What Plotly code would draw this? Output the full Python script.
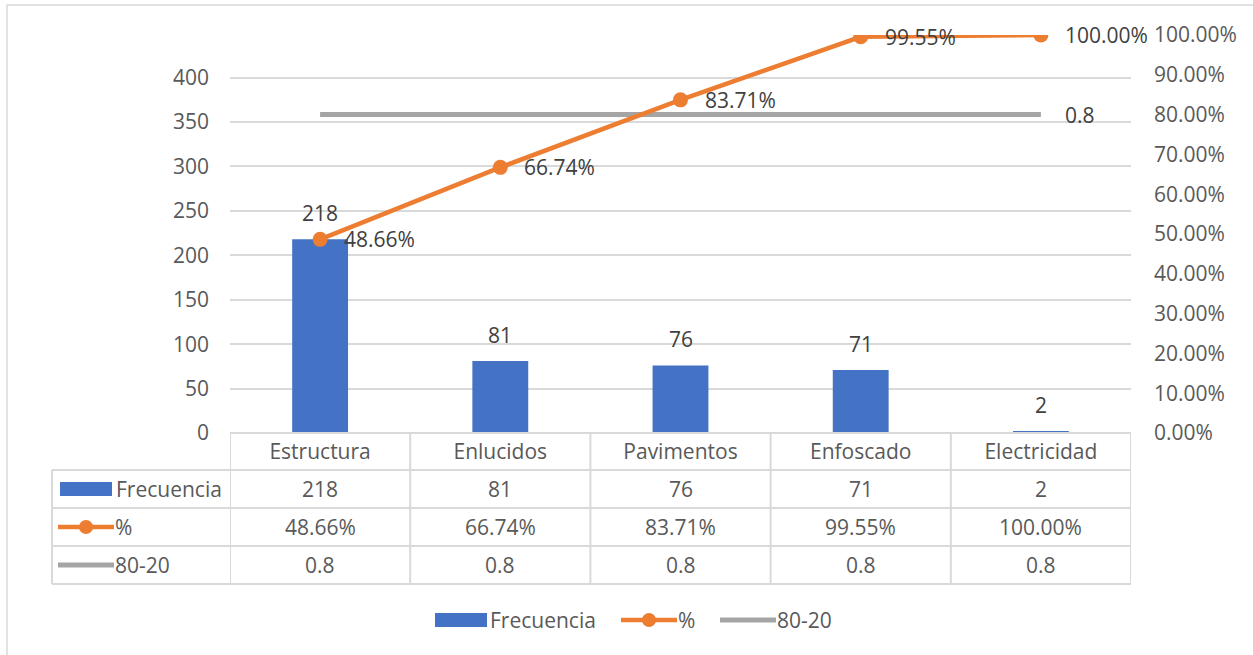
import plotly.graph_objects as go

# Pareto data
categories = ["Estructura", "Enlucidos", "Pavimentos", "Enfoscado", "Electricidad"]
frecuencia = [218, 81, 76, 71, 2]
porcentaje = [0.4866, 0.6674, 0.8371, 0.9955, 1.0]
linea_80_20 = [0.8, 0.8, 0.8, 0.8, 0.8]
left_ticks = [0, 50, 100, 150, 200, 250, 300, 350, 400]
right_ticks = [0.0, 0.1, 0.2, 0.3, 0.4, 0.5, 0.6, 0.7, 0.8, 0.9, 1.0]
total = sum(frecuencia)

BLUE = "#4472C4"
ORANGE = "#ED7D31"
GREY = "#A5A5A5"
TEXT = "#595959"
LABEL = "#404040"
RULE = "#D9D9D9"
FONT = "Open Sans"
FS = 21

W, H = 1253, 655
L, R, T, B = 230, 122, 35, 222
PW, PH = W - L - R, H - T - B


def fx(px):
    """page pixel x -> paper x"""
    return (px - L) / PW


def fy(py):
    """page pixel y -> paper y"""
    return (H - B - py) / PH


fig = go.Figure()
fig.add_trace(go.Bar(x=categories, y=frecuencia, width=0.31,
                     marker=dict(color=BLUE, line=dict(width=0)),
                     name="Frecuencia", showlegend=False))
# 80-20 reference line sits underneath the cumulative curve
fig.add_trace(go.Scatter(x=categories, y=linea_80_20, yaxis="y2", mode="lines",
                         line=dict(color=GREY, width=5),
                         name="80-20", showlegend=False))
fig.add_trace(go.Scatter(x=categories, y=porcentaje, yaxis="y2", mode="lines+markers",
                         line=dict(color=ORANGE, width=4.5),
                         marker=dict(color=ORANGE, size=15),
                         name="%", showlegend=False))

ann = []
shapes = []

# value labels
for c, v in zip(categories, frecuencia):
    ann.append(dict(x=c, y=v, xref="x", yref="y", text=str(v), showarrow=False,
                    xanchor="center", yanchor="middle", yshift=26,
                    font=dict(family=FONT, size=FS, color=LABEL)))
for c, p in zip(categories, porcentaje):
    ann.append(dict(x=c, y=p, xref="x", yref="y2", text=f"{p*100:.2f}%", showarrow=False,
                    xanchor="left", yanchor="middle", xshift=22,
                    font=dict(family=FONT, size=FS, color=LABEL)))
ann.append(dict(x=categories[-1], y=linea_80_20[-1], xref="x", yref="y2",
                text=str(linea_80_20[-1]), showarrow=False, xanchor="left", yanchor="middle",
                xshift=22, font=dict(family=FONT, size=FS, color=LABEL)))

# data table grid
n = len(categories)
line = dict(color=RULE, width=2)
for k in range(n + 1):
    shapes.append(dict(type="line", xref="x", yref="paper", x0=k - 0.5, x1=k - 0.5,
                       y0=fy(433), y1=fy(584), line=line))
shapes.append(dict(type="line", xref="paper", yref="paper", x0=fx(52), x1=fx(52),
                   y0=fy(470), y1=fy(584), line=line))
shapes.append(dict(type="line", xref="x", yref="paper", x0=-0.5, x1=n - 0.5,
                   y0=fy(433), y1=fy(433), line=line))
for py in (470, 508, 546, 584):
    shapes.append(dict(type="line", xref="paper", yref="paper", x0=fx(52), x1=1,
                       y0=fy(py), y1=fy(py), line=line))

rows = [
    ("Frecuencia", [str(v) for v in frecuencia], 489),
    ("%", [f"{p*100:.2f}%" for p in porcentaje], 527),
    ("80-20", [str(v) for v in linea_80_20], 565),
]
for label, vals, py in rows:
    for c, t in enumerate(vals):
        ann.append(dict(x=c, y=fy(py), xref="x", yref="paper", text=t, showarrow=False,
                        xanchor="center", yanchor="middle",
                        font=dict(family=FONT, size=FS, color=TEXT)))


def key(kind, x0, yc):
    """draw a legend key starting at pixel x0, centred on pixel yc"""
    if kind == "bar":
        shapes.append(dict(type="rect", xref="paper", yref="paper", x0=fx(x0), x1=fx(x0 + 52),
                           y0=fy(yc - 7), y1=fy(yc + 7), fillcolor=BLUE, line=dict(width=0)))
    elif kind == "pct":
        shapes.append(dict(type="line", xref="paper", yref="paper", x0=fx(x0), x1=fx(x0 + 56),
                           y0=fy(yc), y1=fy(yc), line=dict(color=ORANGE, width=4.5)))
        shapes.append(dict(type="circle", xref="paper", yref="paper", x0=fx(x0 + 21), x1=fx(x0 + 35),
                           y0=fy(yc - 7), y1=fy(yc + 7), fillcolor=ORANGE, line=dict(width=0)))
    else:
        shapes.append(dict(type="line", xref="paper", yref="paper", x0=fx(x0), x1=fx(x0 + 56),
                           y0=fy(yc), y1=fy(yc), line=dict(color=GREY, width=5)))


def key_text(txt, x, yc):
    ann.append(dict(x=fx(x), y=fy(yc), xref="paper", yref="paper", text=txt, showarrow=False,
                    xanchor="left", yanchor="middle", font=dict(family=FONT, size=FS, color=TEXT)))


# table row keys
key("bar", 60, 489); key_text("Frecuencia", 114, 489)
key("pct", 58, 527); key_text("%", 113, 527)
key("line", 58, 565); key_text("80-20", 113, 565)

# bottom legend
key("bar", 435, 620); key_text("Frecuencia", 488, 620)
key("pct", 621, 620); key_text("%", 676, 620)
key("line", 720, 620); key_text("80-20", 775, 620)

# chart frame
shapes.append(dict(type="rect", xref="paper", yref="paper", x0=fx(7), x1=fx(1262),
                   y0=fy(5), y1=fy(664), line=dict(color=RULE, width=1.5), layer="below"))

fig.update_layout(
    width=W, height=H,
    margin=dict(l=L, r=R, t=T, b=B),
    paper_bgcolor="white", plot_bgcolor="white",
    font=dict(family=FONT, size=FS, color=TEXT),
    bargap=0.69,
    xaxis=dict(type="category", range=[-0.5, n - 0.5], showgrid=False, showline=False,
               zeroline=False, ticks="", ticklabelstandoff=4,
               tickfont=dict(family=FONT, size=FS, color=TEXT)),
    yaxis=dict(range=[0, total], tickvals=left_ticks, showgrid=True, gridcolor=RULE,
               gridwidth=1.5, zeroline=False, showline=False, ticks="",
               ticklabelstandoff=20, tickfont=dict(family=FONT, size=FS, color=TEXT)),
    yaxis2=dict(range=[0, 1], tickvals=right_ticks, tickformat=".2%", overlaying="y",
                side="right", showgrid=False, zeroline=False, showline=False, ticks="",
                ticklabelstandoff=22, tickfont=dict(family=FONT, size=FS, color=TEXT)),
    annotations=ann,
    shapes=shapes,
    showlegend=False,
)

fig.write_html("out.html")
